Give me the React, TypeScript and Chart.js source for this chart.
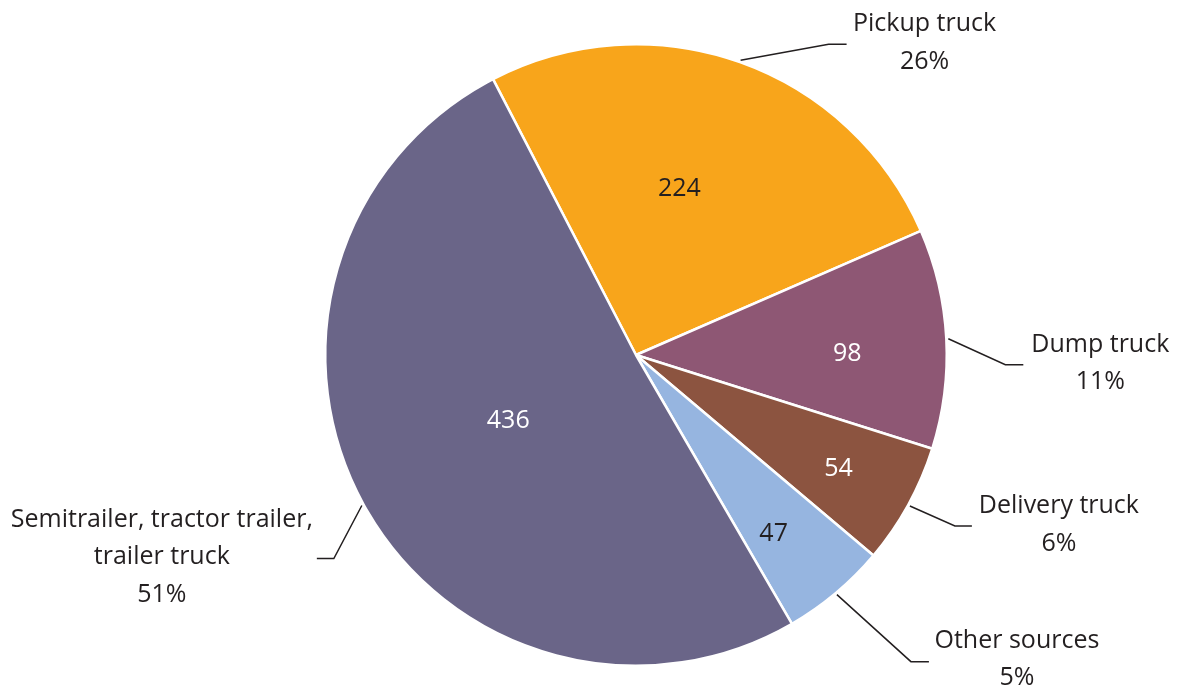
import React, { useEffect, useRef } from "react";
import { Chart, registerables } from "chart.js";

Chart.register(...registerables);

const categories = ["Pickup truck", "Dump truck", "Delivery truck", "Other sources", "Semitrailer, tractor trailer, trailer truck"];
const labelLines = [["Pickup truck"], ["Dump truck"], ["Delivery truck"], ["Other sources"], ["Semitrailer, tractor trailer,", "trailer truck"]];
const values = [224, 98, 54, 47, 436];
const percents = ["26%", "11%", "6%", "5%", "51%"];

const colors = ["#F8A51B", "#8E5774", "#8C5440", "#96B5E0", "#6A6588"];
const valueTextColors = ["#231F20", "#FFFFFF", "#FFFFFF", "#231F20", "#FFFFFF"];
// inner value label placement: radial fraction and angular offset (deg)
const innerFrac = [0.56, 0.68, 0.745, 0.72, 0.46];
const innerAngleOff = [-5.1, 2.2, 0.1, 2.0, 2.1];
// leader layout: elbow offset from the start point, horizontal run, text offset from the end
const elbowOff = [[88, -16], [57, 26], [45, 20], [74, 67], [-28, 53]];
const hRun = [18, 18, 17, 18, -17];
const textDx = [78, 77, 87, 88, -155];
const textTopDy = [-20, -20, -20, -21, -39];
const LINE_H = 37.5;
const FONT = "'Open Sans', 'Noto Sans', sans-serif";

const labelPlugin = {
  id: "pieLabels",
  afterDatasetsDraw(chart: any) {
    const ctx = chart.ctx;
    const meta = chart.getDatasetMeta(0);
    ctx.save();
    meta.data.forEach((arc: any, i: number) => {
      const { x, y, startAngle, endAngle, outerRadius } = arc.getProps(["x", "y", "startAngle", "endAngle", "outerRadius"], true);
      const mid = (startAngle + endAngle) / 2;
      // inner value
      const a = mid + (innerAngleOff[i] * Math.PI) / 180;
      const r = outerRadius * innerFrac[i];
      ctx.font = `25px ${FONT}`;
      ctx.fillStyle = valueTextColors[i];
      ctx.textAlign = "center";
      ctx.textBaseline = "middle";
      ctx.fillText(String(values[i]), x + Math.cos(a) * r, y + Math.sin(a) * r + 2);
      // leader line
      const sx = x + Math.cos(mid) * (outerRadius + 2);
      const sy = y + Math.sin(mid) * (outerRadius + 2);
      const ex = sx + elbowOff[i][0];
      const ey = sy + elbowOff[i][1];
      const hx = ex + hRun[i];
      ctx.strokeStyle = "#231F20";
      ctx.lineWidth = 1.5;
      ctx.beginPath();
      ctx.moveTo(sx, sy);
      ctx.lineTo(ex, ey);
      ctx.lineTo(hx, ey);
      ctx.stroke();
      // outer label
      ctx.fillStyle = "#231F20";
      const lines = [...labelLines[i], percents[i]];
      const tx = hx + textDx[i];
      lines.forEach((ln, k) => {
        ctx.fillText(ln, tx, ey + textTopDy[i] + k * LINE_H);
      });
    });
    ctx.restore();
  },
};

export default function App() {
  const ref = useRef<HTMLCanvasElement>(null);
  useEffect(() => {
    if (!ref.current) return;
    const chart = new Chart(ref.current, {
      type: "pie",
      data: {
        labels: categories,
        datasets: [
          {
            data: values,
            backgroundColor: colors,
            borderColor: "#FFFFFF",
            borderWidth: 2.5,
          },
        ],
      },
      options: {
        responsive: false,
        animation: false,
        devicePixelRatio: 1,
        rotation: -27.4,
        layout: { padding: { left: 324, right: 239, top: 43, bottom: 23 } },
        plugins: { legend: { display: false }, tooltip: { enabled: false } },
      },
      plugins: [labelPlugin],
    });
    return () => chart.destroy();
  }, []);
  return (
    <div style={{ position: "absolute", left: 0, top: 0, width: 1187, height: 690, background: "#fff" }}>
      <canvas ref={ref} width={1187} height={690} />
    </div>
  );
}
